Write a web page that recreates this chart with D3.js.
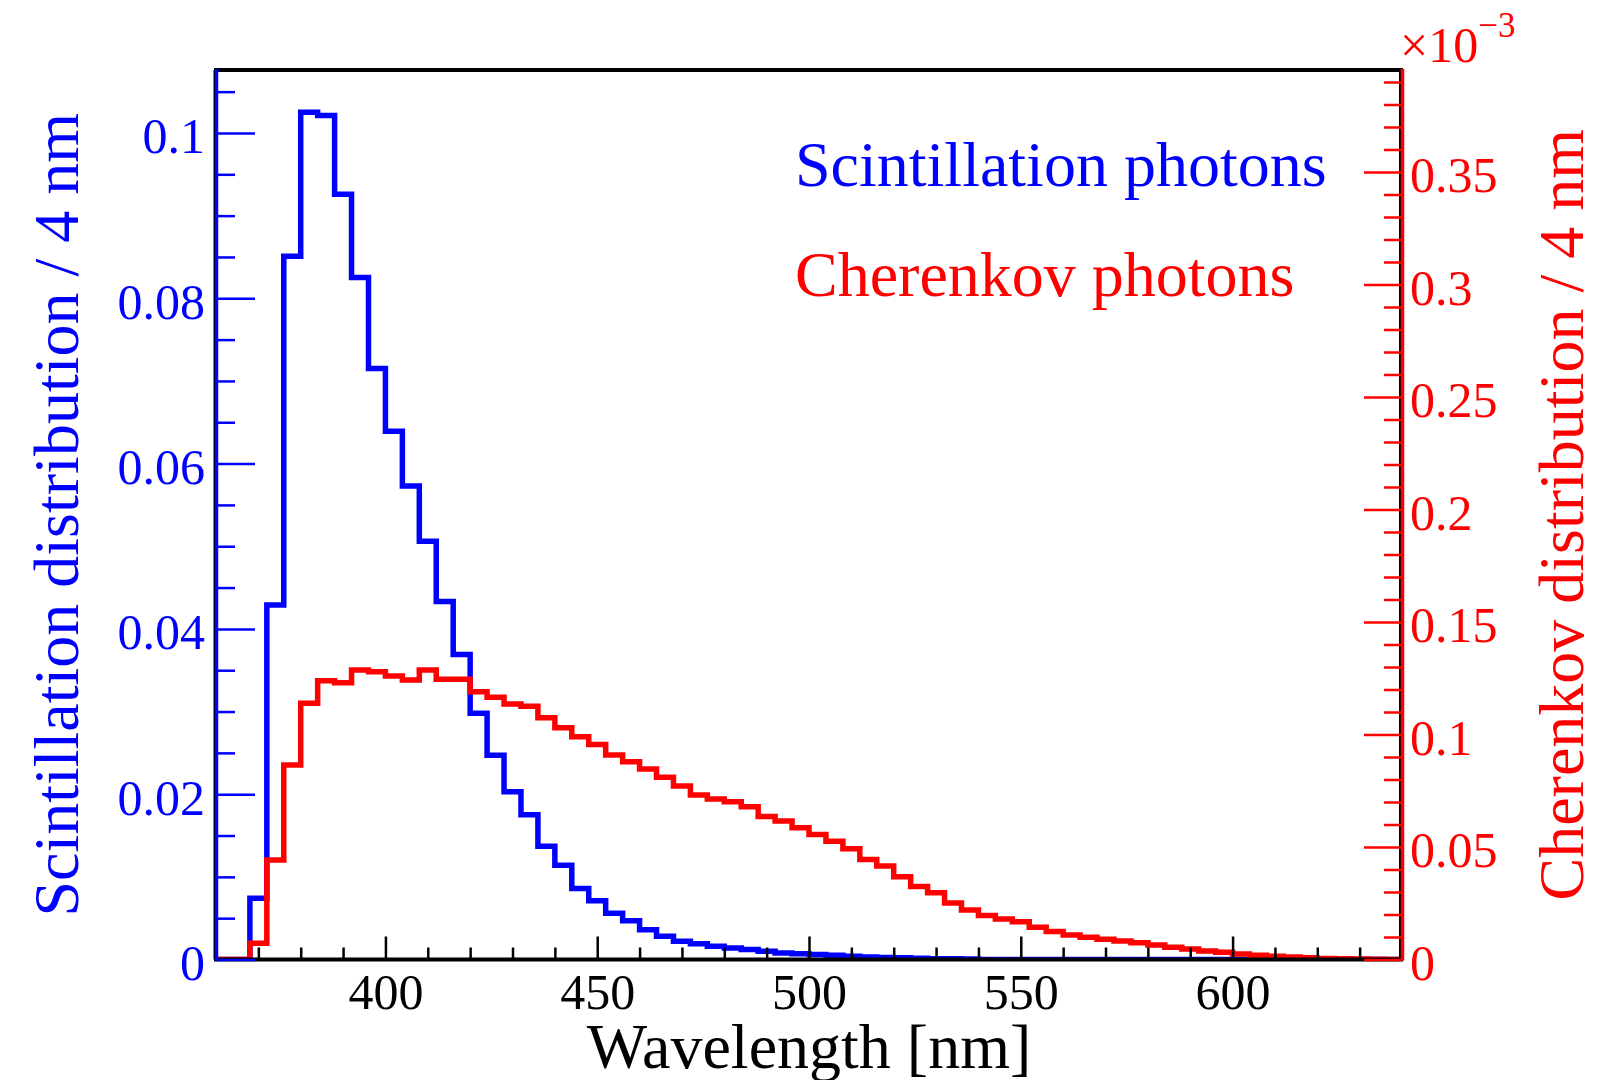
<!DOCTYPE html>
<html><head><meta charset="utf-8">
<script src="https://cdn.jsdelivr.net/npm/d3@7"></script>
<style>
html,body{margin:0;padding:0;background:#fff;}
svg{display:block;}
text{font-family:"Liberation Serif","Times New Roman",serif;}
</style>
</head><body>
<svg id="chart" width="1599" height="1080"></svg>
<script>
// ---- data ----
const binLow = [360,364,368,372,376,380,384,388,392,396,400,404,408,412,416,420,424,428,432,436,
  440,444,448,452,456,460,464,468,472,476,480,484,488,492,496,500,504,508,512,516,
  520,524,528,532,536,540,544,548,552,556,560,564,568,572,576,580,584,588,592,596,
  600,604,608,612,616,620,624,628,632,636];
const binWidth = 4;
const scintillation = [0,0,0.0074,0.0429,0.0851,0.1025,0.1021,0.0926,0.0825,0.0715,
  0.0639,0.0573,0.0506,0.0433,0.0369,0.0298,0.0247,0.0203,0.0175,0.0137,
  0.0114,0.0086,0.0071,0.0056,0.0047,0.0036,0.0028,0.0022,0.0019,0.0016,
  0.0014,0.0012,0.0010,0.0008,0.0007,0.0006,0.0005,0.0004,0.0003,0.00025,
  0.0002,0.00015,0.0001,0.00008,0.00005,0,0,0,0,0,
  0,0,0,0,0,0,0,0,0,0,
  0,0,0,0,0,0,0,0,0,0];
// Cherenkov values in units of 10^-3
const cherenkov = [0,0,0.0072,0.0442,0.0864,0.1139,0.1239,0.1230,0.1287,0.1279,
  0.1260,0.1242,0.1287,0.1245,0.1245,0.1190,0.1166,0.1135,0.1125,0.1074,
  0.1030,0.0990,0.0956,0.0909,0.0879,0.0847,0.0810,0.0771,0.0731,0.0713,
  0.0701,0.0679,0.0635,0.0616,0.0585,0.0556,0.0525,0.0492,0.0444,0.0416,
  0.0368,0.0324,0.0297,0.0251,0.0220,0.0196,0.0180,0.0168,0.0143,0.0124,
  0.0109,0.0099,0.0090,0.0082,0.0075,0.0064,0.0054,0.0047,0.0038,0.0032,
  0.0024,0.0019,0.0015,0.0011,0.0008,0.0005,0.0003,0.0002,0.0001,0];
const xRange = [360,640];
const xTickValues = [400,450,500,550,600];
const xTickLabels = ["400","450","500","550","600"];
const xMinorTicks = [370,380,390,410,420,430,440,460,470,480,490,510,520,530,540,560,570,580,590,610,620,630];
const leftMax = 0.10762;
const leftTickValues = [0,0.02,0.04,0.06,0.08,0.1];
const leftTickLabels = ["0","0.02","0.04","0.06","0.08","0.1"];
const leftMinorTicks = [0.005,0.01,0.015,0.025,0.03,0.035,0.045,0.05,0.055,0.065,0.07,0.075,0.085,0.09,0.095,0.105];
const rightMax = 0.39533;
const rightTickValues = [0,0.05,0.1,0.15,0.2,0.25,0.3,0.35];
const rightTickLabels = ["0","0.05","0.1","0.15","0.2","0.25","0.3","0.35"];
const rightMinorTicks = [0.01,0.02,0.03,0.04,0.06,0.07,0.08,0.09,0.11,0.12,0.13,0.14,0.16,0.17,0.18,0.19,0.21,0.22,0.23,0.24,0.26,0.27,0.28,0.29,0.31,0.32,0.33,0.34,0.36,0.37,0.38,0.39];
const legendLabels = ["Scintillation photons","Cherenkov photons"];
const xTitle = "Wavelength [nm]";
const leftTitle = "Scintillation distribution / 4 nm";
const rightTitle = "Cherenkov distribution / 4 nm";

// ---- layout ----
const BLUE = "#0000ff", RED = "#ff0000";
const L = 216, R = 1402, T = 70, B = 959.5;
const svg = d3.select("#chart");
svg.append("rect").attr("width",1599).attr("height",1080).attr("fill","#fff");

const x = d3.scaleLinear().domain(xRange).range([L,R]);
const yL = d3.scaleLinear().domain([0,leftMax]).range([B,T]);
const yR = d3.scaleLinear().domain([0,rightMax]).range([B,T]);

svg.append("defs").append("clipPath").attr("id","frameClip")
  .append("rect").attr("x",L).attr("y",T).attr("width",R-L).attr("height",B-T);

function histPath(vals, yScale){
  const pts = binLow.map((b,i)=>[x(b), yScale(vals[i])]);
  pts.push([x(binLow[binLow.length-1]+binWidth), yScale(vals[vals.length-1])]);
  return d3.line().curve(d3.curveStepAfter)(pts);
}

const plot = svg.append("g").attr("clip-path","url(#frameClip)");
plot.append("path").attr("d",histPath(scintillation,yL))
  .attr("fill","none").attr("stroke",BLUE).attr("stroke-width",5.5).attr("stroke-linejoin","miter");
plot.append("path").attr("d",histPath(cherenkov,yR))
  .attr("fill","none").attr("stroke",RED).attr("stroke-width",5.5).attr("stroke-linejoin","miter");

// frame
svg.append("line").attr("x1",L-2).attr("x2",R+1).attr("y1",T).attr("y2",T).attr("stroke","#000").attr("stroke-width",4);
svg.append("line").attr("x1",L-2).attr("x2",R+1).attr("y1",B).attr("y2",B).attr("stroke","#000").attr("stroke-width",4);
svg.append("line").attr("x1",L-1.5).attr("x2",L-1.5).attr("y1",T).attr("y2",B).attr("stroke","#000").attr("stroke-width",2);
svg.append("line").attr("x1",R-2).attr("x2",R-2).attr("y1",T).attr("y2",B).attr("stroke","#000").attr("stroke-width",2);

// ticks style helper
function styleAxis(g, color, fontSize){
  g.select(".domain").remove();
  g.selectAll(".tick line").attr("stroke",color).attr("stroke-width",2.5);
  g.selectAll(".tick text").attr("fill",color).style("font-size",fontSize+"px")
    .style("font-family",'"Liberation Serif","Times New Roman",serif');
}

// x axis
const gxMinor = svg.append("g").attr("transform",`translate(0,${B})`)
  .call(d3.axisBottom(x).tickValues(xMinorTicks).tickSizeInner(-12).tickSizeOuter(0).tickFormat(""));
styleAxis(gxMinor,"#000",50);
const gx = svg.append("g").attr("transform",`translate(0,${B})`)
  .call(d3.axisBottom(x).tickValues(xTickValues).tickSizeInner(-23).tickSizeOuter(0).tickPadding(14)
    .tickFormat((d,i)=>xTickLabels[i]));
styleAxis(gx,"#000",50);

// left axis
const glMinor = svg.append("g").attr("transform",`translate(${L},0)`)
  .call(d3.axisLeft(yL).tickValues(leftMinorTicks).tickSizeInner(-19).tickSizeOuter(0).tickFormat(""));
styleAxis(glMinor,BLUE,50);
const gl = svg.append("g").attr("transform",`translate(${L},0)`)
  .call(d3.axisLeft(yL).tickValues(leftTickValues).tickSizeInner(-39).tickSizeOuter(0).tickPadding(11)
    .tickFormat((d,i)=>leftTickLabels[i]));
styleAxis(gl,BLUE,50);
gl.selectAll(".tick text").attr("dy","0.4em");
svg.append("line").attr("x1",L+0.5).attr("x2",L+0.5).attr("y1",T-1).attr("y2",B+1).attr("stroke",BLUE).attr("stroke-width",3.5);

// right axis
const grMinor = svg.append("g").attr("transform",`translate(${R},0)`)
  .call(d3.axisRight(yR).tickValues(rightMinorTicks).tickSizeInner(-18).tickSizeOuter(0).tickFormat(""));
styleAxis(grMinor,RED,50);
const gr = svg.append("g").attr("transform",`translate(${R},0)`)
  .call(d3.axisRight(yR).tickValues(rightTickValues).tickSizeInner(-38).tickSizeOuter(0).tickPadding(8)
    .tickFormat((d,i)=>rightTickLabels[i]));
styleAxis(gr,RED,50);
gr.selectAll(".tick text").attr("dy","0.4em");
svg.append("line").attr("x1",R+0.5).attr("x2",R+0.5).attr("y1",T-1).attr("y2",B+1).attr("stroke",RED).attr("stroke-width",3.5);

// exponent
const ex = svg.append("text").attr("x",R-2).attr("y",62).attr("fill",RED).style("font-size","50px");
ex.append("tspan").text("\u00d710");
ex.append("tspan").attr("dy",-25).style("font-size","35px").text("\u22123");

// titles
svg.append("text").attr("x",(L+R)/2).attr("y",1068).attr("text-anchor","middle")
  .style("font-size","64px").attr("fill","#000").text(xTitle);
svg.append("text").attr("transform",`translate(78,${(T+B)/2}) rotate(-90)`).attr("text-anchor","middle")
  .style("font-size","64px").attr("fill",BLUE).text(leftTitle);
svg.append("text").attr("transform",`translate(1583,${(T+B)/2}) rotate(-90)`).attr("text-anchor","middle")
  .style("font-size","64px").attr("fill",RED).text(rightTitle);

// legend
svg.append("text").attr("x",795).attr("y",186).style("font-size","64px").attr("fill",BLUE).text(legendLabels[0]);
svg.append("text").attr("x",795).attr("y",296).style("font-size","64px").attr("fill",RED).text(legendLabels[1]);
</script>
</body></html>
